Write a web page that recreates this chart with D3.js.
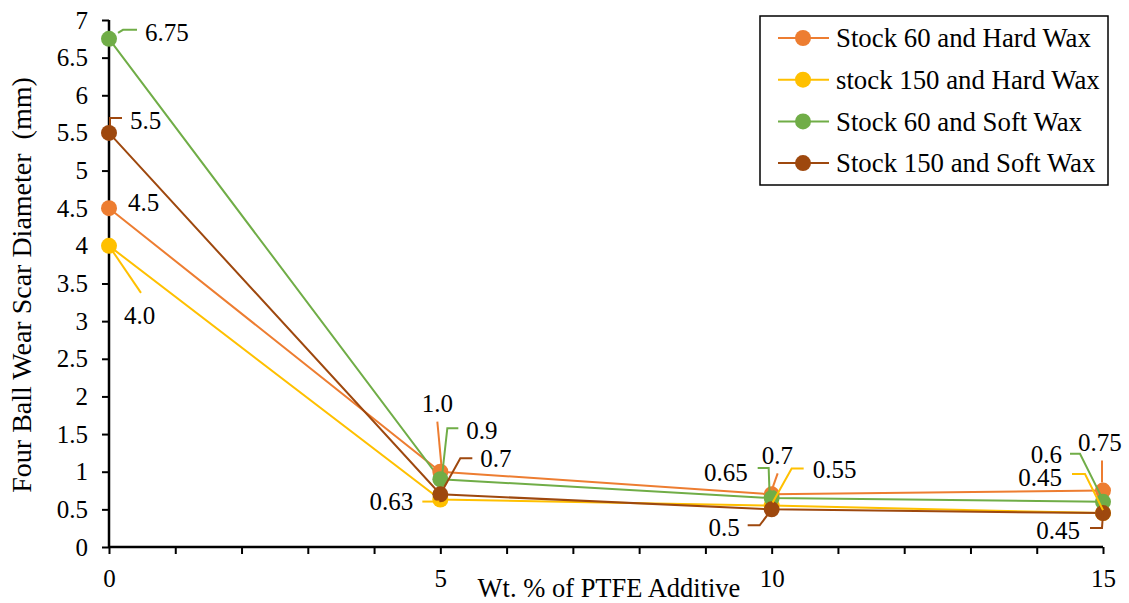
<!DOCTYPE html>
<html>
<head>
<meta charset="utf-8">
<script src="https://cdn.jsdelivr.net/npm/d3@7"></script>
<style>
  body { margin: 0; background: #fff; }
  svg { font-family: "Liberation Serif", "Times New Roman", serif; }
</style>
</head>
<body>
<svg id="chart" width="1129" height="603"></svg>
<script>
// data
var xValues = [0, 5, 10, 15];
var seriesNames = ["Stock 60 and Hard Wax", "stock 150 and Hard Wax", "Stock 60 and Soft Wax", "Stock 150 and Soft Wax"];
var stock60Hard = [4.5, 1.0, 0.7, 0.75];
var stock150Hard = [4.0, 0.63, 0.55, 0.45];
var stock60Soft = [6.75, 0.9, 0.65, 0.6];
var stock150Soft = [5.5, 0.7, 0.5, 0.45];
var stock60HardLabels = ["4.5", "1.0", "0.7", "0.75"];
var stock150HardLabels = ["4.0", "0.63", "0.55", "0.45"];
var stock60SoftLabels = ["6.75", "0.9", "0.65", "0.6"];
var stock150SoftLabels = ["5.5", "0.7", "0.5", "0.45"];
var yTicks = [0, 0.5, 1, 1.5, 2, 2.5, 3, 3.5, 4, 4.5, 5, 5.5, 6, 6.5, 7];

var colors = ["#ED7D31", "#FFC000", "#70AD47", "#9E480E"];

// label placement: text offset (dx, dy, anchor) and leader points relative to marker
var labelLayout = [
  [ {dx: 19, dy: -6, a: "start", lead: null},
    {dx: -3, dy: -68, a: "middle", lead: [[-3, -50], [1, -7]]},
    {dx: -10, dy: -39, a: "start", lead: [[6, -21], [0, -4]]},
    {dx: -25, dy: -48, a: "start", lead: [[-1, -30], [-1, -8]]} ],
  [ {dx: 15, dy: 69, a: "start", lead: [[0, 0], [32, 47]]},
    {dx: -27, dy: 2, a: "end", lead: [[-18, 2], [-1, 2]]},
    {dx: 41, dy: -36, a: "start", lead: [[32, -37], [20, -37], [1, -3]]},
    {dx: -41, dy: -36, a: "end", lead: [[-31, -39], [-18, -39], [0, -3]]} ],
  [ {dx: 36, dy: -7, a: "start", lead: [[9, -6], [14, -9], [28, -9]]},
    {dx: 26, dy: -49, a: "start", lead: [[18, -51], [7, -51], [2, -6]]},
    {dx: -24, dy: -26, a: "end", lead: [[-14, -30], [-3, -30], [-2, -1]]},
    {dx: -41, dy: -48, a: "end", lead: [[-33, -48], [-23, -48], [-1, -4]]} ],
  [ {dx: 21, dy: -13, a: "start", lead: [[1, -5], [1, -15], [13, -15]]},
    {dx: 40, dy: -36, a: "start", lead: [[32, -36], [20, -36], [0, 0]]},
    {dx: -32, dy: 18, a: "end", lead: [[-24, 16], [-12, 16], [0, 0]]},
    {dx: -23, dy: 17, a: "end", lead: [[-13, 15], [-1, 15], [0, 0]]} ]
];

var series = [stock60Hard, stock150Hard, stock60Soft, stock150Soft].map(function (vals, i) {
  return {
    name: seriesNames[i],
    color: colors[i],
    labels: [stock60HardLabels, stock150HardLabels, stock60SoftLabels, stock150SoftLabels][i],
    layout: labelLayout[i],
    points: vals.map(function (v, j) { return {x: xValues[j], y: v}; })
  };
});

var svg = d3.select("#chart");
var x = d3.scaleLinear().domain([0, 15]).range([109, 1103]);
var y = d3.scaleLinear().domain([0, 7]).range([547, 20]);

// axes
var yAxis = svg.append("g")
  .attr("transform", "translate(" + x(0) + ",0)")
  .call(d3.axisLeft(y).tickValues(yTicks).tickSize(7).tickPadding(14).tickFormat(d3.format("")));
var xAxis = svg.append("g")
  .attr("transform", "translate(0," + y(0) + ")")
  .call(d3.axisBottom(x).ticks(15).tickSize(7).tickPadding(15)
    .tickFormat(function (d) { return d % 5 === 0 ? d : ""; }));

[xAxis, yAxis].forEach(function (g) {
  g.select(".domain").attr("stroke", "#000").attr("stroke-width", 2.5);
  g.selectAll(".tick line").attr("stroke", "#000").attr("stroke-width", 2);
  g.selectAll(".tick text").attr("fill", "#000").style("font-size", "25px")
    .style("font-family", "'Liberation Serif', 'Times New Roman', serif");
});
xAxis.select(".domain").attr("d", "M" + x(0) + ",0H" + x(15));
yAxis.select(".domain").attr("d", "M0," + y(0) + "V" + y(7));

// axis titles
svg.append("text")
  .attr("x", 609).attr("y", 597)
  .attr("text-anchor", "middle")
  .style("font-size", "26.5px").attr("fill", "#000")
  .text("Wt. % of PTFE Additive");
svg.append("text")
  .attr("transform", "translate(31,285) rotate(-90)")
  .attr("text-anchor", "middle")
  .style("font-size", "28px").attr("fill", "#000")
  .text("Four Ball Wear Scar Diameter\u00a0 (mm)");

// lines
var line = d3.line().x(function (d) { return x(d.x); }).y(function (d) { return y(d.y); });
series.forEach(function (s) {
  svg.append("path")
    .attr("d", line(s.points))
    .attr("fill", "none")
    .attr("stroke", s.color)
    .attr("stroke-width", 2);
});

// markers
series.forEach(function (s) {
  svg.selectAll(null).data(s.points).enter().append("circle")
    .attr("cx", function (d) { return x(d.x); })
    .attr("cy", function (d) { return y(d.y); })
    .attr("r", 8)
    .attr("fill", s.color);
});

// leader lines and labels
series.forEach(function (s) {
  s.points.forEach(function (p, j) {
    var px = x(p.x), py = y(p.y), lay = s.layout[j];
    if (lay.lead) {
      svg.append("polyline")
        .attr("points", lay.lead.map(function (o) { return (px + o[0]) + "," + (py + o[1]); }).join(" "))
        .attr("fill", "none")
        .attr("stroke", s.color)
        .attr("stroke-width", 2);
    }
    svg.append("text")
      .attr("x", px + lay.dx)
      .attr("y", py + lay.dy)
      .attr("dy", "0.35em")
      .attr("text-anchor", lay.a)
      .style("font-size", "25px")
      .attr("fill", "#000")
      .text(s.labels[j]);
  });
});

// legend
var legend = svg.append("g");
legend.append("rect")
  .attr("x", 760).attr("y", 16).attr("width", 348).attr("height", 169)
  .attr("fill", "#fff").attr("stroke", "#000").attr("stroke-width", 1.5);
var rows = legend.selectAll("g.row").data(series).enter().append("g")
  .attr("class", "row")
  .attr("transform", function (d, i) { return "translate(0," + (38 + i * 41.7) + ")"; });
rows.append("line")
  .attr("x1", 778).attr("x2", 829).attr("y1", 0).attr("y2", 0)
  .attr("stroke", function (d) { return d.color; }).attr("stroke-width", 2);
rows.append("circle")
  .attr("cx", 803).attr("cy", 0).attr("r", 8)
  .attr("fill", function (d) { return d.color; });
rows.append("text")
  .attr("x", 836).attr("y", 0).attr("dy", "0.35em")
  .style("font-size", "26.8px").attr("fill", "#000")
  .text(function (d) { return d.name; });
</script>
</body>
</html>
